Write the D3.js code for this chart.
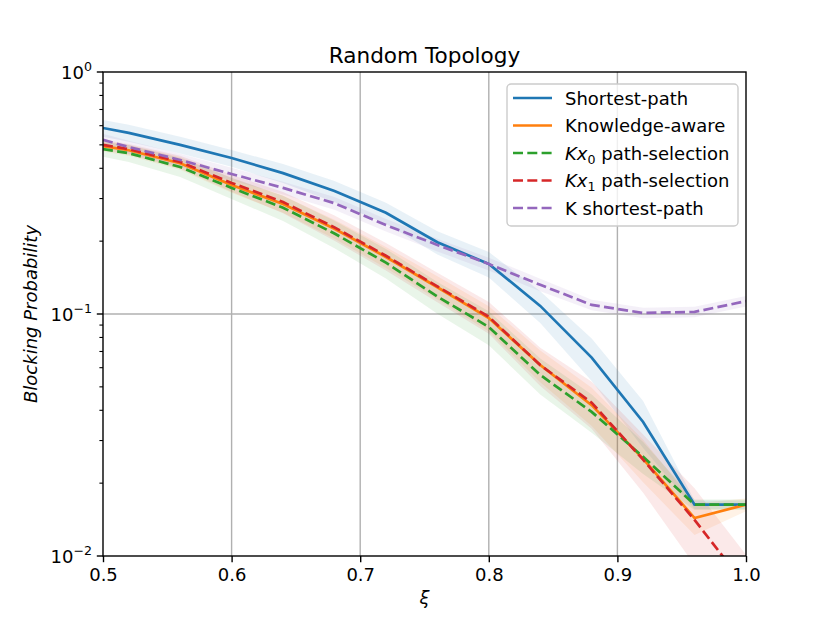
<!DOCTYPE html>
<html>
<head>
<meta charset="utf-8">
<script src="https://cdn.jsdelivr.net/npm/d3@7"></script>
<style>
	body { margin: 0; background: #fff; }
	text { font-family: "DejaVu Sans", sans-serif; fill: #000; }
</style>
</head>
<body>
<svg id="chart" width="830" height="623"></svg>
<script>
// xi values shared by every series
var xi = [0.5, 0.52, 0.56, 0.6, 0.64, 0.68, 0.72, 0.76, 0.8, 0.84, 0.88, 0.92, 0.96, 1.0];

// mean blocking probability per series
var shortestPath   = [0.587, 0.56, 0.50, 0.441, 0.382, 0.322, 0.262, 0.198, 0.161, 0.108, 0.066, 0.0358, 0.0163, 0.0163];
var knowledgeAware = [0.494, 0.475, 0.42, 0.341, 0.285, 0.225, 0.172, 0.129, 0.0962, 0.0615, 0.042, 0.0252, 0.01435, 0.0163];
var kx0Selection   = [0.48, 0.462, 0.405, 0.332, 0.275, 0.215, 0.163, 0.118, 0.0884, 0.056, 0.0394, 0.0257, 0.0163, 0.0163];
var kx1Selection   = [0.50, 0.48, 0.425, 0.348, 0.29, 0.228, 0.174, 0.130, 0.0974, 0.0615, 0.043, 0.025, 0.0141, 0.0075];
var kShortestPath  = [0.524, 0.49, 0.433, 0.379, 0.332, 0.287, 0.233, 0.193, 0.161, 0.132, 0.109, 0.101, 0.102, 0.113];

// relative spread of the shaded band around each mean
var shortestPathSpread   = [0.08, 0.08, 0.08, 0.08, 0.09, 0.1, 0.1, 0.11, 0.12, 0.15, 0.2, 0.22, 0.04, 0.04];
var knowledgeAwareSpread = [0.05, 0.05, 0.06, 0.07, 0.08, 0.09, 0.1, 0.11, 0.12, 0.15, 0.18, 0.2, 0.15, 0.06];
var kx0SelectionSpread   = [0.07, 0.08, 0.09, 0.1, 0.12, 0.13, 0.14, 0.15, 0.16, 0.17, 0.18, 0.15, 0.05, 0.05];
var kx1SelectionSpread   = [0.05, 0.05, 0.06, 0.08, 0.1, 0.12, 0.13, 0.14, 0.15, 0.18, 0.22, 0.27, 0.35, 0.35];
var kShortestPathSpread  = [0.06, 0.06, 0.06, 0.06, 0.06, 0.06, 0.06, 0.06, 0.06, 0.06, 0.05, 0.05, 0.05, 0.05];

var xTicks = [0.5, 0.6, 0.7, 0.8, 0.9, 1.0];
var yTicks = [1, 0.1, 0.01];
var yTickExponents = ['0', '\u22121', '\u22122'];

var series = [
	{ label: 'Shortest-path', values: shortestPath, spread: shortestPathSpread, color: '#1f77b4', dashed: false },
	{ label: 'Knowledge-aware', values: knowledgeAware, spread: knowledgeAwareSpread, color: '#ff7f0e', dashed: false },
	{ label: 'Kx0', sub: '0', values: kx0Selection, spread: kx0SelectionSpread, color: '#2ca02c', dashed: true },
	{ label: 'Kx1', sub: '1', values: kx1Selection, spread: kx1SelectionSpread, color: '#d62728', dashed: true },
	{ label: 'K shortest-path', values: kShortestPath, spread: kShortestPathSpread, color: '#9467bd', dashed: true }
];

var fontSize = 18, lineWidth = 2.7, dash = '10,4.3';

var margin = { left: 103, right: 84, top: 72, bottom: 67 },
	width = 830 - margin.left - margin.right,
	height = 623 - margin.top - margin.bottom;

var svg = d3.select('#chart');
var g = svg.append('g').attr('transform', 'translate(' + margin.left + ',' + margin.top + ')');

var x = d3.scaleLinear().domain([0.5, 1.0]).range([0, width]);
var y = d3.scaleLog().domain([0.01, 1]).range([height, 0]);

svg.append('defs').append('clipPath').attr('id', 'plot-clip')
	.append('rect').attr('width', width).attr('height', height);

// grid
g.append('g').selectAll('line').data(xTicks.slice(1, -1)).enter().append('line')
	.attr('x1', function (d) { return x(d); }).attr('x2', function (d) { return x(d); })
	.attr('y1', 0).attr('y2', height)
	.attr('stroke', '#b0b0b0').attr('stroke-width', 1.4);
g.append('g').selectAll('line').data([0.1]).enter().append('line')
	.attr('x1', 0).attr('x2', width)
	.attr('y1', function (d) { return y(d); }).attr('y2', function (d) { return y(d); })
	.attr('stroke', '#b0b0b0').attr('stroke-width', 1.4);

var plot = g.append('g').attr('clip-path', 'url(#plot-clip)');

var area = d3.area()
	.x(function (d) { return x(d.x); })
	.y0(function (d) { return y(d.v * (1 - d.s)); })
	.y1(function (d) { return y(d.v * (1 + d.s)); });

var line = d3.line()
	.x(function (d) { return x(d.x); })
	.y(function (d) { return y(d.v); });

series.forEach(function (s) {
	s.points = xi.map(function (xv, i) { return { x: xv, v: s.values[i], s: s.spread[i] }; });
	plot.append('path').datum(s.points)
		.attr('d', area)
		.attr('fill', s.color).attr('fill-opacity', 0.1).attr('stroke', 'none');
});

series.forEach(function (s) {
	plot.append('path').datum(s.points)
		.attr('d', line)
		.attr('fill', 'none').attr('stroke', s.color).attr('stroke-width', lineWidth)
		.attr('stroke-dasharray', s.dashed ? dash : null);
});

// axes
var xAxis = d3.axisBottom(x).tickValues(xTicks).tickFormat(d3.format('.1f')).tickSize(6.2).tickPadding(6);
var xg = g.append('g').attr('transform', 'translate(0,' + height + ')').call(xAxis);
xg.select('.domain').remove();
xg.selectAll('text').style('font-size', fontSize + 'px').attr('font-family', 'DejaVu Sans');
xg.selectAll('line').attr('stroke-width', 1.4);

var minorTicks = [];
[0.01, 0.1].forEach(function (base) {
	for (var k = 2; k <= 9; k++) minorTicks.push(base * k);
});
var yg = g.append('g');
yg.selectAll('line.minor').data(minorTicks).enter().append('line')
	.attr('class', 'minor')
	.attr('x1', -3.6).attr('x2', 0)
	.attr('y1', function (d) { return y(d); }).attr('y2', function (d) { return y(d); })
	.attr('stroke', '#000').attr('stroke-width', 1.1);
yg.selectAll('line.major').data(yTicks).enter().append('line')
	.attr('class', 'major')
	.attr('x1', -6.2).attr('x2', 0)
	.attr('y1', function (d) { return y(d); }).attr('y2', function (d) { return y(d); })
	.attr('stroke', '#000').attr('stroke-width', 1.4);
var yLabels = yg.selectAll('text.tick').data(yTicks).enter().append('text')
	.attr('class', 'tick')
	.attr('x', -11).attr('y', function (d) { return y(d) + 6.5; })
	.attr('text-anchor', 'end')
	.style('font-size', fontSize + 'px');
yLabels.append('tspan').text('10');
yLabels.append('tspan').attr('dy', -8).style('font-size', '12.6px')
	.text(function (d, i) { return yTickExponents[i]; });

// frame
g.append('rect').attr('width', width).attr('height', height)
	.attr('fill', 'none').attr('stroke', '#000').attr('stroke-width', 1.4);

// titles
svg.append('text').attr('x', margin.left + width / 2).attr('y', 63)
	.attr('text-anchor', 'middle').style('font-size', '21.6px').text('Random Topology');
svg.append('text').attr('x', margin.left + width / 2).attr('y', 604)
	.attr('text-anchor', 'middle').style('font-size', fontSize + 'px').style('font-style', 'italic').text('\u03be');
svg.append('text').attr('transform', 'translate(37,' + (margin.top + height / 2) + ') rotate(-90)')
	.attr('text-anchor', 'middle').style('font-size', fontSize + 'px').style('font-style', 'italic')
	.text('Blocking Probability');

// legend
var legend = svg.append('g').attr('transform', 'translate(507,84)');
legend.append('rect').attr('width', 231).attr('height', 142).attr('rx', 4)
	.attr('fill', '#fff').attr('fill-opacity', 0.8).attr('stroke', '#cccccc').attr('stroke-width', 1.4);
series.forEach(function (s, i) {
	var ly = 14 + i * 27.5;
	legend.append('line').attr('x1', 6).attr('x2', 45).attr('y1', ly).attr('y2', ly)
		.attr('stroke', s.color).attr('stroke-width', lineWidth)
		.attr('stroke-dasharray', s.dashed ? dash : null);
	var t = legend.append('text').attr('x', 58).attr('y', ly + 6.5).style('font-size', fontSize + 'px');
	if (s.sub) {
		t.append('tspan').style('font-style', 'italic').text('Kx');
		t.append('tspan').attr('dy', 4).style('font-size', '12.6px').text(s.sub);
		t.append('tspan').attr('dy', -4).text(' path-selection');
	} else {
		t.text(s.label);
	}
});
</script>
</body>
</html>
